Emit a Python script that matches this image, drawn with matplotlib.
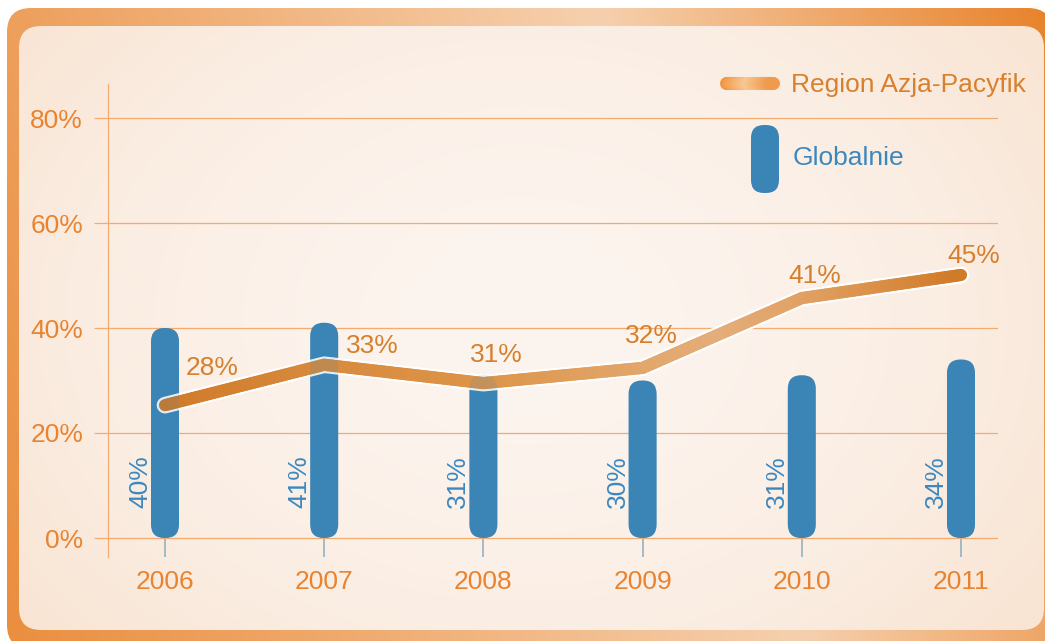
#Chart: share in Asia-Pacific region vs global, 2006-2011
import numpy as np
import matplotlib
matplotlib.use('Agg')
import matplotlib.pyplot as plt
from matplotlib.patches import FancyBboxPatch
from matplotlib.collections import LineCollection
from matplotlib.colors import LinearSegmentedColormap, to_rgb

plt.rcParams['font.family'] = ['Liberation Sans', 'DejaVu Sans']

#Data
years = ['2006', '2007', '2008', '2009', '2010', '2011']
global_vals = [40, 41, 31, 30, 31, 34]
global_labels = ['40%', '41%', '31%', '30%', '31%', '34%']
region_vals = [25.3, 33.0, 29.5, 32.4, 45.7, 50.1]
region_labels = ['28%', '33%', '31%', '32%', '41%', '45%']
y_ticks = [0, 20, 40, 60, 80]

#Colours
blue = '#3a84b6'
axis_text = '#ea832f'
line_text = '#d67f2c'
grid_col = '#f3ab70'
tick_col = '#93b2c4'

#Label offsets (points) for the line labels
label_offsets = [(34, 21.6), (35, 8.6), (9, 15), (6, 18), (9, 10.8), (9, 8.6)]

W, H = 1045, 641
fig = plt.figure(figsize=(W/100, H/100), dpi=100)

#Background: orange frame and cream panel
bg = fig.add_axes([0, 0, 1, 1], zorder=0)
bg.axis('off')
u = np.linspace(0, 1, 400)
v = np.linspace(0, 1, 250)
U, V = np.meshgrid(u, v)
c = 0.57 + 0.2*V
d = np.where(U < c, 1.1*(c-U), 2.3*(U-c)).clip(0, 1)
light = np.array(to_rgb('#f6d0ae'))
dark = np.array(to_rgb('#e8822a'))
frame_img = light*(1-d[..., None]) + dark*d[..., None]
frame = FancyBboxPatch((7, 8), W, H, boxstyle='round,pad=0,rounding_size=24', fc='none', ec='none')
bg.add_patch(frame)
im = bg.imshow(frame_img, extent=(0, W, H, 0), aspect='auto', zorder=0)
im.set_clip_path(frame)

r = np.sqrt(((U-0.5)/0.6)**2 + ((V-0.5)/0.75)**2).clip(0, 1)
pc = np.array(to_rgb('#fcf4ee'))
pe = np.array(to_rgb('#f9e5d4'))
panel_img = pc*(1-r[..., None]**2) + pe*(r[..., None]**2)
panel = FancyBboxPatch((19, 26), 1044-19, 630-26, boxstyle='round,pad=0,rounding_size=22', fc='none', ec='none')
bg.add_patch(panel)
im2 = bg.imshow(panel_img, extent=(0, W, H, 0), aspect='auto', zorder=1)
im2.set_clip_path(panel)

#Legend (drawn by hand)
leg_cmap = LinearSegmentedColormap.from_list('leg', ['#f0943e', '#f8c894', '#ef9a4c'])
lx = np.linspace(725.5, 772.5, 60)
leg_segs = [[(lx[j], 82.5), (lx[j+1], 82.5)] for j in range(len(lx)-1)]
leg_cols = [leg_cmap(j/(len(lx)-2)) for j in range(len(lx)-1)]
bg.add_collection(LineCollection(leg_segs, colors=leg_cols, linewidths=9.4, capstyle='round', zorder=3))
bg.add_patch(FancyBboxPatch((751, 125), 28, 68, boxstyle='round,pad=0,rounding_size=13', fc=blue, ec='none', zorder=3))
bg.text(791, 92, 'Region Azja-Pacyfik', ha='left', va='baseline', fontsize=19, color='#d9802f', zorder=3)
bg.text(793, 165, 'Globalnie', ha='left', va='baseline', fontsize=19, color='#3b88bf', zorder=3)
bg.set_xlim(0, W)
bg.set_ylim(H, 0)

#Plot area (pixel layout of the reference)
x0px, x1px, ytop, ybot = 108, 998, 84, 557
ax = fig.add_axes([x0px/W, 1-ybot/H, (x1px-x0px)/W, (ybot-ytop)/H], zorder=1)
ax.patch.set_alpha(0)
pxx = 159.2   #pixels per category
pxy = 5.25    #pixels per percent
ax.set_xlim(-(165-x0px)/pxx, 5 + (x1px-961)/pxx)
ax.set_ylim(-(ybot-538)/pxy, (538-ytop)/pxy)

for s in ['top', 'right', 'bottom']:
    ax.spines[s].set_visible(False)
ax.spines['left'].set_color(grid_col)
ax.spines['left'].set_linewidth(0.9)

ax.set_yticks(y_ticks, [str(t)+'%' for t in y_ticks])
ax.tick_params(axis='y', length=10, width=0.9, color=grid_col, pad=8, labelsize=19, labelcolor=axis_text)
ax.yaxis.grid(True, color=grid_col, lw=0.9)
ax.set_axisbelow(True)
ax.set_xticks(range(len(years)), years)
ax.tick_params(axis='x', direction='in', length=13.7, width=1.2, color=tick_col, pad=9.5, labelsize=19, labelcolor=axis_text)

#Rounded bars
bw = 28/pxx
asp = pxx/pxy
for i, val in enumerate(global_vals):
    bar = FancyBboxPatch((i-bw/2, 0), bw, val, boxstyle='round,pad=0,rounding_size=0.085',
                         mutation_aspect=asp, fc=blue, ec='none', zorder=2)
    ax.add_patch(bar)
    ax.annotate(global_labels[i], (i, 0), xytext=(-13, 21.6), textcoords='offset points',
                rotation=90, rotation_mode='anchor', ha='left', va='baseline',
                fontsize=19, color='#3b88bf', zorder=6)

#Line with white outline and horizontal gradient
xs = np.arange(len(region_vals))
ax.plot(xs, region_vals, color='white', lw=12, solid_capstyle='round', solid_joinstyle='round', zorder=3)
line_cmap = LinearSegmentedColormap.from_list('reg', [
    (0.0, '#d07a28'), (0.2, '#d88a3e'), (0.4, '#dd9448'), (0.6, '#e2a66a'),
    (0.7, '#e4ad7a'), (0.8, '#e1a266'), (0.9, '#da9048'), (1.0, '#d07b27')])
segs = []
cols = []
for k in range(len(xs)-1):
    t = np.linspace(0, 1, 41)
    px = xs[k] + (xs[k+1]-xs[k])*t
    py = region_vals[k] + (region_vals[k+1]-region_vals[k])*t
    for j in range(len(t)-1):
        segs.append([(px[j], py[j]), (px[j+1], py[j+1])])
        cols.append(line_cmap((px[j]+px[j+1])/2/xs[-1]))
ax.add_collection(LineCollection(segs, colors=cols, linewidths=8.8, capstyle='round', joinstyle='round', zorder=4))

#Bars again, faint, so the line looks see-through where it crosses them
for i, val in enumerate(global_vals):
    bar = FancyBboxPatch((i-bw/2, 0), bw, val, boxstyle='round,pad=0,rounding_size=0.085',
                         mutation_aspect=asp, fc=blue, ec='none', alpha=0.15, zorder=5)
    ax.add_patch(bar)

for i, lbl in enumerate(region_labels):
    ax.annotate(lbl, (i, region_vals[i]), xytext=label_offsets[i], textcoords='offset points',
                ha='center', va='baseline', fontsize=19, color=line_text, zorder=6)

fig.savefig('out.png', dpi=100)
